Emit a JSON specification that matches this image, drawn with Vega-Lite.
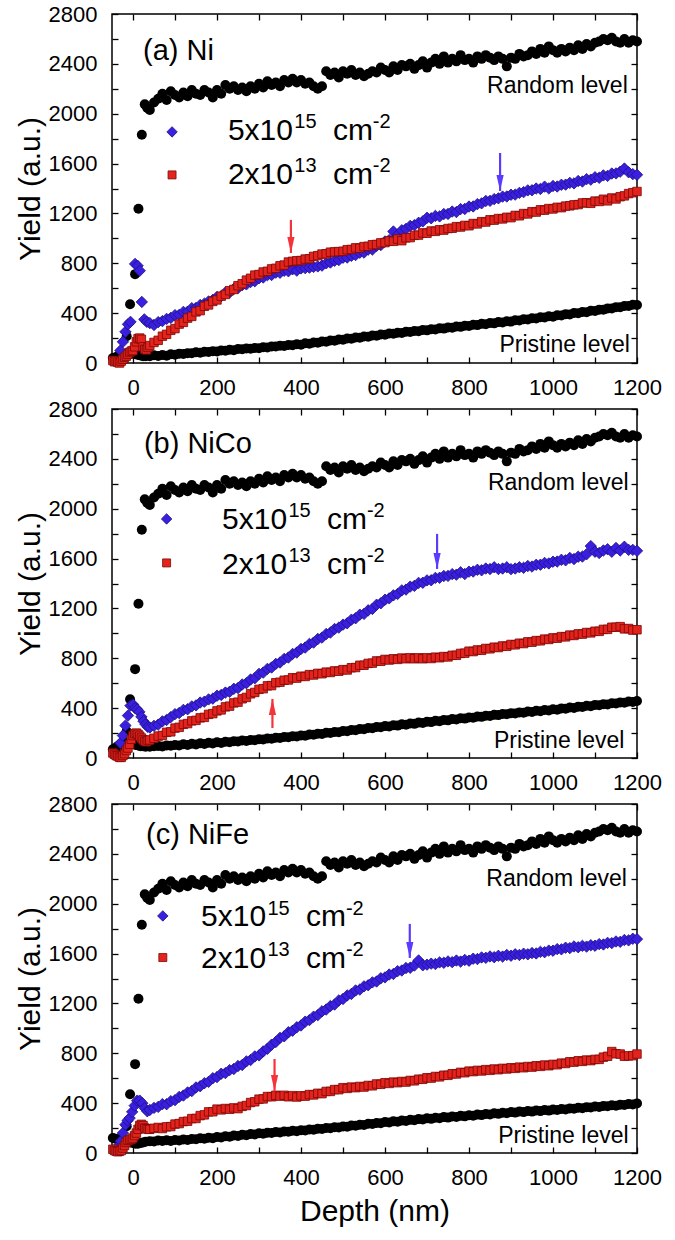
{"$schema":"https://vega.github.io/schema/vega-lite/v6.json","padding":{"left":14,"top":2,"right":5,"bottom":5},"background":"white","spacing":46,"bounds":"flush",
"config":{"view":{"stroke":"#000","strokeWidth":1.5},"font":"Liberation Sans","axis":{"domain":false,"grid":false,"labelFont":"Liberation Sans","labelFontSize":22,"labelColor":"#000","labelFlush":false,"labelOverlap":false,"format":"d","titleFont":"Liberation Sans","titleFontSize":30,"titleFontWeight":"normal","titleColor":"#000","tickColor":"#000","tickWidth":1.3},"point":{"filled":true,"opacity":1},"text":{"font":"Liberation Sans","color":"#000"},"mark":{"invalid":"filter"}},
"datasets":{
"d":[
{"x":-48,"Pa":40,"Sa":20,"Pb":70,"Sb":40,"Pc":120,"Sc":30},{"x":-44,"Sa":10,"Sb":30,"Sc":20},{"x":-42,"Pa":45,"Pb":80,"Pc":115},{"x":-40,"Sa":15,"Sb":20,"Sc":15},{"x":-36,"Pa":55,"Sa":5,"Pb":95,"Sb":15,"Pc":110,"Sc":10},{"x":-34,"Bc":60},{"x":-32,"Sa":0,"Sb":5,"Sc":15},{"x":-30,"Pa":60,"Ba":100,"Pb":110,"Bb":120,"Pc":105},{"x":-29,"Bc":95},{"x":-28,"Sa":15,"Sb":5,"Sc":20},{"x":-24,"Pa":70,"Ba":170,"Sa":30,"Pb":120,"Bb":180,"Sb":20,"Pc":100,"Bc":160,"Sc":40},{"x":-22,"R":54},{"x":-20,"Sa":45,"Sb":35,"Sc":60},{"x":-18,"Pa":75,"Ba":250,"Pb":125,"Bb":260,"Pc":95,"Bc":227},{"x":-16,"Sa":55,"Sb":60,"Sc":85},{"x":-15,"R":215},{"x":-13,"Bc":260},{"x":-12,"Pa":80,"Ba":310,"Sa":70,"Pb":120,"Bb":340,"Sb":80,"Pc":90,"Sc":100},{"x":-8,"Sa":85,"Sb":110,"Bc":280,"Sc":105},{"x":-7,"R":471},{"x":-6,"Pa":80,"Ba":330,"Pb":115,"Bb":420,"Pc":85},{"x":-4,"Sa":95,"Sb":150,"Sc":110},{"x":-2,"Bc":330},{"x":0,"Pa":75,"Sa":100,"Pb":110,"Bb":430,"Sb":180,"Pc":80,"Sc":120},{"x":4,"Sa":130,"Sb":195,"Bc":380,"Sc":140},{"x":5,"R":713,"Ba":795,"Bb":400},{"x":6,"Pa":70,"Pb":105,"Pc":75},{"x":8,"Sa":170,"Sb":200,"Sc":160},{"x":10,"Bb":390,"Bc":420},{"x":11,"Ba":780},{"x":12,"Pa":65,"Sa":195,"Pb":100,"Sb":190,"Pc":75,"Sc":190},{"x":13,"R":1238},{"x":15,"Bb":370},{"x":16,"Ba":740,"Sa":200,"Sb":175,"Bc":420,"Sc":220},{"x":18,"Pa":60,"Pb":95,"Pc":80},{"x":20,"Sa":190,"Bb":330,"Sb":160,"Sc":230},{"x":21,"R":1831,"Ba":490},{"x":22,"Bc":400},{"x":24,"Pa":55,"Sa":130,"Pb":95,"Sb":145,"Pc":85,"Sc":220},{"x":25,"Bb":295},{"x":27,"Ba":350},{"x":28,"R":2075,"Sa":110,"Sb":135,"Bc":360,"Sc":200},{"x":30,"Pa":55,"Pb":90,"Bb":270,"Pc":90},{"x":32,"Sa":105,"Sb":130,"Sc":195},{"x":33,"Ba":330},{"x":34,"R":2046,"Bc":335},{"x":35,"Bb":250},{"x":36,"Sa":125,"Sb":140,"Sc":190},
{"x":40,"R":2030,"Pa":55,"Ba":320,"Sa":140,"Pb":90,"Bb":245,"Sb":145,"Pc":95,"Bc":345,"Sc":190},
{"x":50,"R":2090,"Pa":62,"Ba":305,"Sa":165,"Pb":94,"Bb":258,"Sb":158,"Pc":92,"Bc":362,"Sc":198},
{"x":60,"R":2120,"Pa":56,"Ba":328,"Sa":182,"Pb":97,"Bb":268,"Sb":176,"Pc":100,"Bc":370,"Sc":205},
{"x":70,"R":2160,"Pa":64,"Ba":336,"Sa":215,"Pb":92,"Bb":294,"Sb":181,"Pc":96,"Bc":392,"Sc":196},
{"x":80,"R":2110,"Pa":58,"Ba":354,"Sa":230,"Pb":101,"Bb":305,"Sb":206,"Pc":103,"Bc":391,"Sc":210},
{"x":90,"R":2180,"Pa":70,"Ba":362,"Sa":262,"Pb":98,"Bb":328,"Sb":210,"Pc":97,"Bc":416,"Sc":212},
{"x":100,"R":2150,"Pa":67,"Ba":384,"Sa":276,"Pb":105,"Bb":352,"Sb":240,"Pc":104,"Bc":424,"Sc":232},
{"x":110,"R":2130,"Pa":75,"Ba":386,"Sa":312,"Pb":101,"Bb":361,"Sb":246,"Pc":100,"Bc":450,"Sc":236},
{"x":120,"R":2170,"Pa":73,"Ba":410,"Sa":326,"Pb":110,"Bb":386,"Sb":270,"Pc":108,"Bc":461,"Sc":252},
{"x":130,"R":2140,"Pa":79,"Ba":412,"Sa":360,"Pb":105,"Bb":391,"Sb":276,"Pc":104,"Bc":486,"Sc":255},
{"x":140,"R":2190,"Pa":78,"Ba":440,"Sa":374,"Pb":114,"Bb":414,"Sb":298,"Pc":113,"Bc":497,"Sc":276},
{"x":150,"R":2160,"Pa":86,"Ba":442,"Sa":410,"Pb":109,"Bb":422,"Sb":302,"Pc":110,"Bc":526,"Sc":277},
{"x":160,"R":2150,"Pa":83,"Ba":465,"Sa":420,"Pb":118,"Bb":445,"Sb":322,"Pc":118,"Bc":536,"Sc":300},
{"x":170,"R":2190,"Pa":90,"Ba":476,"Sa":455,"Pb":113,"Bb":452,"Sb":326,"Pc":114,"Bc":560,"Sc":306},
{"x":180,"R":2170,"Pa":88,"Ba":494,"Sa":466,"Pb":122,"Bb":470,"Sb":350,"Pc":123,"Bc":571,"Sc":330},
{"x":190,"R":2130,"Pa":95,"Ba":506,"Sa":494,"Pb":117,"Bb":476,"Sb":356,"Pc":119,"Bc":600,"Sc":331},
{"x":200,"R":2190,"Pa":93,"Ba":530,"Sa":506,"Pb":126,"Bb":500,"Sb":378,"Pc":128,"Bc":609,"Sc":352},
{"x":210,"R":2160,"Pa":101,"Ba":536,"Sa":536,"Pb":121,"Bb":506,"Sb":386,"Pc":125,"Bc":636,"Sc":346},
{"x":220,"R":2230,"Pa":98,"Ba":565,"Sa":550,"Pb":130,"Bb":525,"Sb":410,"Pc":134,"Bc":641,"Sc":357},
{"x":230,"R":2200,"Pa":106,"Ba":566,"Sa":580,"Pb":127,"Bb":531,"Sb":416,"Pc":131,"Bc":665,"Sc":351},
{"x":240,"R":2220,"Pa":103,"Ba":595,"Sa":590,"Pb":135,"Bb":555,"Sb":442,"Pc":140,"Bc":674,"Sc":362},
{"x":250,"R":2190,"Pa":112,"Ba":601,"Sa":620,"Pb":132,"Bb":561,"Sb":448,"Pc":137,"Bc":698,"Sc":356},
{"x":260,"R":2210,"Pa":110,"Ba":625,"Sa":636,"Pb":140,"Bb":590,"Sb":475,"Pc":146,"Bc":706,"Sc":374},
{"x":270,"R":2180,"Pa":117,"Ba":631,"Sa":665,"Pb":137,"Bb":600,"Sb":486,"Pc":143,"Bc":735,"Sc":381},
{"x":280,"R":2220,"Pa":115,"Ba":650,"Sa":680,"Pb":145,"Bb":630,"Sb":515,"Pc":152,"Bc":746,"Sc":405},
{"x":290,"R":2200,"Pa":121,"Ba":656,"Sa":705,"Pb":142,"Bb":640,"Sb":526,"Pc":149,"Bc":775,"Sc":411},
{"x":300,"R":2240,"Pa":119,"Ba":680,"Sa":710,"Pb":151,"Bb":675,"Sb":551,"Pc":158,"Bc":783,"Sc":432},
{"x":310,"R":2210,"Pa":127,"Ba":686,"Sa":730,"Pb":148,"Bb":685,"Sb":556,"Pc":155,"Bc":815,"Sc":434},
{"x":320,"R":2260,"Pa":125,"Ba":705,"Sa":736,"Pb":157,"Bb":715,"Sb":579,"Pc":163,"Bc":836,"Sc":453},
{"x":330,"R":2230,"Pa":133,"Ba":706,"Sa":755,"Pb":154,"Bb":726,"Sb":581,"Pc":160,"Bc":869,"Sc":451},
{"x":340,"R":2250,"Pa":132,"Ba":725,"Sa":760,"Pb":163,"Bb":755,"Sb":604,"Pc":168,"Bc":891,"Sc":463},
{"x":350,"R":2220,"Pa":139,"Ba":724,"Sa":780,"Pb":160,"Bb":766,"Sb":608,"Pc":165,"Bc":924,"Sc":456},
{"x":360,"R":2270,"Pa":137,"Ba":740,"Sa":786,"Pb":169,"Bb":795,"Sb":624,"Pc":173,"Bc":936,"Sc":463},
{"x":370,"R":2250,"Pa":145,"Ba":736,"Sa":810,"Pb":166,"Bb":806,"Sb":626,"Pc":170,"Bc":969,"Sc":451},
{"x":380,"R":2280,"Pa":143,"Ba":752,"Sa":816,"Pb":175,"Bb":835,"Sb":644,"Pc":178,"Bc":981,"Sc":460},
{"x":390,"R":2250,"Pa":151,"Ba":741,"Sa":820,"Pb":172,"Bb":846,"Sb":641,"Pc":175,"Bc":1009,"Sc":449},
{"x":400,"R":2270,"Pa":147,"Ba":759,"Sa":822,"Pb":181,"Bb":875,"Sb":656,"Pc":183,"Bc":1023,"Sc":459},
{"x":410,"R":2240,"Pa":158,"Ba":761,"Sa":834,"Pb":179,"Bb":886,"Sb":654,"Pc":180,"Bc":1054,"Sc":456},
{"x":420,"R":2250,"Pa":155,"Ba":765,"Sa":836,"Pb":188,"Bb":915,"Sb":669,"Pc":189,"Bc":1066,"Sc":469},
{"x":430,"R":2220,"Pa":165,"Ba":771,"Sa":855,"Pb":186,"Bb":926,"Sb":666,"Pc":186,"Bc":1094,"Sc":466},
{"x":440,"R":2200,"Pa":163,"Ba":775,"Sa":861,"Pb":195,"Bb":955,"Sb":679,"Pc":195,"Bc":1106,"Sc":479},
{"x":450,"R":2220,"Pa":173,"Ba":781,"Sa":874,"Pb":193,"Bb":966,"Sb":676,"Pc":192,"Bc":1137,"Sc":476},
{"x":460,"R":2340,"Pa":171,"Ba":800,"Sa":876,"Pb":202,"Bb":995,"Sb":689,"Pc":201,"Bc":1151,"Sc":494},
{"x":470,"R":2310,"Pa":181,"Ba":806,"Sa":889,"Pb":200,"Bb":1006,"Sb":686,"Pc":198,"Bc":1179,"Sc":494},
{"x":480,"R":2330,"Pa":179,"Ba":820,"Sa":891,"Pb":209,"Bb":1035,"Sb":699,"Pc":207,"Bc":1191,"Sc":509},
{"x":490,"R":2290,"Pa":189,"Ba":826,"Sa":894,"Pb":207,"Bb":1046,"Sb":696,"Pc":204,"Bc":1224,"Sc":508},
{"x":500,"R":2340,"Pa":187,"Ba":845,"Sa":896,"Pb":216,"Bb":1070,"Sb":709,"Pc":213,"Bc":1236,"Sc":524},
{"x":510,"R":2320,"Pa":197,"Ba":846,"Sa":909,"Pb":214,"Bb":1081,"Sb":706,"Pc":211,"Bc":1264,"Sc":518},
{"x":520,"R":2350,"Pa":195,"Ba":860,"Sa":911,"Pb":224,"Bb":1110,"Sb":724,"Pc":220,"Bc":1276,"Sc":529},
{"x":530,"R":2310,"Pa":205,"Ba":866,"Sa":924,"Pb":222,"Bb":1121,"Sb":726,"Pc":218,"Bc":1304,"Sc":524},
{"x":540,"R":2330,"Pa":203,"Ba":885,"Sa":921,"Pb":232,"Bb":1150,"Sb":744,"Pc":227,"Bc":1311,"Sc":534},
{"x":550,"R":2300,"Pa":213,"Ba":886,"Sa":934,"Pb":230,"Bb":1156,"Sb":744,"Pc":225,"Bc":1337,"Sc":529},
{"x":560,"R":2320,"Pa":211,"Ba":910,"Sa":936,"Pb":240,"Bb":1185,"Sb":759,"Pc":234,"Bc":1346,"Sc":542},
{"x":570,"R":2340,"Pa":221,"Ba":911,"Sa":949,"Pb":238,"Bb":1196,"Sb":761,"Pc":232,"Bc":1369,"Sc":539},
{"x":580,"R":2330,"Pa":219,"Ba":940,"Sa":951,"Pb":248,"Bb":1230,"Sb":779,"Pc":241,"Bc":1376,"Sc":554},
{"x":590,"R":2370,"Pa":229,"Ba":946,"Sa":964,"Pb":246,"Bb":1241,"Sb":776,"Pc":239,"Bc":1402,"Sc":551},
{"x":600,"R":2350,"Pa":227,"Ba":975,"Sa":966,"Pb":256,"Bb":1270,"Sb":791,"Pc":248,"Bc":1409,"Sc":564},
{"x":610,"R":2330,"Pa":236,"Ba":986,"Sa":979,"Pb":253,"Bb":1281,"Sb":786,"Pc":245,"Bc":1432,"Sc":558},
{"x":620,"R":2380,"Pa":234,"Ba":1055,"Sa":976,"Pb":263,"Bb":1305,"Sb":796,"Pc":254,"Bc":1436,"Sc":569},
{"x":630,"R":2350,"Pa":243,"Ba":1026,"Sa":994,"Pb":260,"Bb":1316,"Sb":791,"Pc":251,"Bc":1459,"Sc":564},
{"x":640,"R":2390,"Pa":241,"Ba":1065,"Sa":981,"Pb":270,"Bb":1345,"Sb":802,"Pc":260,"Bc":1464,"Sc":574},
{"x":650,"R":2380,"Pa":250,"Ba":1076,"Sa":1004,"Pb":267,"Bb":1351,"Sb":796,"Pc":257,"Bc":1484,"Sc":569},
{"x":660,"R":2400,"Pa":248,"Ba":1100,"Sa":1006,"Pb":277,"Bb":1375,"Sb":804,"Pc":266,"Bc":1486,"Sc":582},
{"x":670,"R":2360,"Pa":257,"Ba":1106,"Sa":1024,"Pb":274,"Bb":1381,"Sb":796,"Pc":263,"Bc":1504,"Sc":579},
{"x":680,"R":2390,"Pa":255,"Ba":1125,"Sa":1026,"Pb":284,"Bb":1405,"Sb":804,"Pc":272,"Bc":1545,"Sc":592},
{"x":690,"R":2420,"Pa":265,"Ba":1136,"Sa":1044,"Pb":281,"Bb":1406,"Sb":796,"Pc":269,"Bc":1506,"Sc":591},
{"x":700,"R":2370,"Pa":262,"Ba":1165,"Sa":1041,"Pb":291,"Bb":1425,"Sb":804,"Pc":278,"Bc":1511,"Sc":604},
{"x":710,"R":2410,"Pa":271,"Ba":1161,"Sa":1059,"Pb":288,"Bb":1426,"Sb":798,"Pc":274,"Bc":1519,"Sc":601},
{"x":720,"R":2440,"Pa":269,"Ba":1180,"Sa":1056,"Pb":298,"Bb":1445,"Sb":809,"Pc":283,"Bc":1516,"Sc":614},
{"x":730,"R":2400,"Pa":278,"Ba":1176,"Sa":1069,"Pb":295,"Bb":1446,"Sb":804,"Pc":279,"Bc":1529,"Sc":611},
{"x":740,"R":2460,"Pa":276,"Ba":1195,"Sa":1066,"Pb":305,"Bb":1460,"Sb":814,"Pc":288,"Bc":1526,"Sc":624},
{"x":750,"R":2410,"Pa":285,"Ba":1196,"Sa":1079,"Pb":302,"Bb":1461,"Sb":811,"Pc":284,"Bc":1537,"Sc":623},
{"x":760,"R":2440,"Pa":283,"Ba":1215,"Sa":1081,"Pb":312,"Bb":1475,"Sb":824,"Pc":293,"Bc":1531,"Sc":636},
{"x":770,"R":2420,"Pa":293,"Ba":1211,"Sa":1094,"Pb":309,"Bb":1471,"Sb":824,"Pc":289,"Bc":1544,"Sc":634},
{"x":780,"R":2470,"Pa":290,"Ba":1235,"Sa":1091,"Pb":319,"Bb":1490,"Sb":839,"Pc":298,"Bc":1536,"Sc":647},
{"x":790,"R":2430,"Pa":299,"Ba":1236,"Sa":1104,"Pb":316,"Bb":1476,"Sb":841,"Pc":294,"Bc":1549,"Sc":644},
{"x":800,"R":2440,"Pa":297,"Ba":1255,"Sa":1101,"Pb":325,"Bb":1495,"Sb":857,"Pc":303,"Bc":1543,"Sc":657},
{"x":810,"R":2410,"Pa":307,"Ba":1256,"Sa":1119,"Pb":323,"Bb":1496,"Sb":854,"Pc":299,"Bc":1559,"Sc":653},
{"x":820,"R":2460,"Pa":304,"Ba":1275,"Sa":1116,"Pb":332,"Bb":1510,"Sb":867,"Pc":308,"Bc":1556,"Sc":663},
{"x":830,"R":2440,"Pa":314,"Ba":1281,"Sa":1134,"Pb":330,"Bb":1506,"Sb":864,"Pc":304,"Bc":1569,"Sc":658},
{"x":840,"R":2470,"Pa":311,"Ba":1300,"Sa":1131,"Pb":339,"Bb":1520,"Sb":879,"Pc":313,"Bc":1566,"Sc":669},
{"x":850,"R":2450,"Pa":321,"Ba":1301,"Sa":1149,"Pb":337,"Bb":1516,"Sb":876,"Pc":309,"Bc":1577,"Sc":663},
{"x":860,"R":2430,"Pa":318,"Ba":1315,"Sa":1146,"Pb":346,"Bb":1530,"Sb":889,"Pc":318,"Bc":1571,"Sc":674},
{"x":870,"R":2460,"Pa":328,"Ba":1321,"Sa":1159,"Pb":344,"Bb":1516,"Sb":886,"Pc":314,"Bc":1582,"Sc":668},
{"x":880,"R":2440,"Pa":325,"Ba":1335,"Sa":1156,"Pb":353,"Bb":1520,"Sb":899,"Pc":323,"Bc":1576,"Sc":679},
{"x":890,"R":2380,"Pa":335,"Ba":1336,"Sa":1169,"Pb":351,"Bb":1530,"Sb":896,"Pc":319,"Bc":1589,"Sc":674},
{"x":900,"R":2450,"Pa":332,"Ba":1350,"Sa":1166,"Pb":360,"Bb":1515,"Sb":911,"Pc":328,"Bc":1583,"Sc":684},
{"x":910,"R":2440,"Pa":343,"Ba":1351,"Sa":1184,"Pb":358,"Bb":1520,"Sb":908,"Pc":324,"Bc":1594,"Sc":679},
{"x":920,"R":2480,"Pa":341,"Ba":1365,"Sa":1181,"Pb":366,"Bb":1530,"Sb":921,"Pc":333,"Bc":1589,"Sc":689},
{"x":930,"R":2460,"Pa":351,"Ba":1371,"Sa":1199,"Pb":364,"Bb":1526,"Sb":918,"Pc":328,"Bc":1599,"Sc":684},
{"x":940,"R":2470,"Pa":349,"Ba":1385,"Sa":1196,"Pb":373,"Bb":1540,"Sb":932,"Pc":337,"Bc":1594,"Sc":694},
{"x":950,"R":2500,"Pa":359,"Ba":1386,"Sa":1214,"Pb":370,"Bb":1536,"Sb":929,"Pc":332,"Bc":1604,"Sc":689},
{"x":960,"R":2480,"Pa":357,"Ba":1400,"Sa":1211,"Pb":379,"Bb":1550,"Sb":942,"Pc":341,"Bc":1601,"Sc":700},
{"x":970,"R":2520,"Pa":367,"Ba":1396,"Sa":1229,"Pb":376,"Bb":1551,"Sb":940,"Pc":336,"Bc":1614,"Sc":695},
{"x":980,"R":2490,"Pa":365,"Ba":1415,"Sa":1226,"Pb":385,"Bb":1565,"Sb":954,"Pc":345,"Bc":1611,"Sc":706},
{"x":990,"R":2540,"Pa":375,"Ba":1401,"Sa":1239,"Pb":382,"Bb":1561,"Sb":951,"Pc":340,"Bc":1624,"Sc":700},
{"x":1000,"R":2510,"Pa":372,"Ba":1420,"Sa":1236,"Pb":391,"Bb":1575,"Sb":964,"Pc":348,"Bc":1623,"Sc":711},
{"x":1010,"R":2490,"Pa":383,"Ba":1416,"Sa":1249,"Pb":388,"Bb":1576,"Sb":961,"Pc":345,"Bc":1636,"Sc":708},
{"x":1020,"R":2520,"Pa":381,"Ba":1430,"Sa":1246,"Pb":398,"Bb":1590,"Sb":974,"Pc":353,"Bc":1634,"Sc":721},
{"x":1030,"R":2500,"Pa":392,"Ba":1431,"Sa":1259,"Pb":395,"Bb":1586,"Sb":972,"Pc":350,"Bc":1647,"Sc":718},
{"x":1040,"R":2530,"Pa":390,"Ba":1445,"Sa":1261,"Pb":405,"Bb":1605,"Sb":986,"Pc":358,"Bc":1644,"Sc":732},
{"x":1050,"R":2510,"Pa":401,"Ba":1441,"Sa":1269,"Pb":402,"Bb":1596,"Sb":983,"Pc":355,"Bc":1657,"Sc":729},
{"x":1060,"R":2550,"Pa":399,"Ba":1460,"Sa":1271,"Pb":412,"Bb":1615,"Sb":996,"Pc":363,"Bc":1651,"Sc":740},
{"x":1070,"R":2520,"Pa":409,"Ba":1456,"Sa":1284,"Pb":409,"Bb":1616,"Sb":994,"Pc":360,"Bc":1662,"Sc":735},
{"x":1080,"R":2560,"Pa":408,"Ba":1475,"Sa":1286,"Pb":419,"Bb":1635,"Sb":1007,"Pc":368,"Bc":1656,"Sc":746},
{"x":1090,"R":2540,"Pa":419,"Ba":1471,"Sa":1281,"Pb":416,"Bb":1700,"Sb":1004,"Pc":365,"Bc":1667,"Sc":741},
{"x":1100,"R":2570,"Pa":417,"Ba":1490,"Sa":1299,"Pb":426,"Bb":1655,"Sb":1017,"Pc":373,"Bc":1663,"Sc":751},
{"x":1110,"R":2580,"Pa":428,"Ba":1486,"Sa":1296,"Pb":423,"Bb":1645,"Sb":1016,"Pc":370,"Bc":1676,"Sc":751},
{"x":1120,"R":2600,"Pa":427,"Ba":1505,"Sa":1314,"Pb":432,"Bb":1665,"Sb":1032,"Pc":378,"Bc":1673,"Sc":769},
{"x":1130,"R":2590,"Pa":438,"Ba":1501,"Sa":1301,"Pb":430,"Bb":1675,"Sb":1032,"Pc":375,"Bc":1686,"Sc":776},
{"x":1140,"R":2610,"Pa":437,"Ba":1520,"Sa":1324,"Pb":439,"Bb":1655,"Sb":1049,"Pc":383,"Bc":1684,"Sc":814},
{"x":1150,"R":2580,"Pa":448,"Ba":1521,"Sa":1316,"Pb":437,"Bb":1685,"Sb":1049,"Pc":380,"Bc":1697,"Sc":796},
{"x":1160,"R":2570,"Pa":447,"Ba":1535,"Sa":1334,"Pb":446,"Bb":1665,"Sb":1054,"Pc":388,"Bc":1694,"Sc":794},
{"x":1170,"R":2600,"Pa":458,"Ba":1560,"Sa":1341,"Pb":443,"Bb":1695,"Sb":1036,"Pc":385,"Bc":1709,"Sc":776},
{"x":1180,"R":2570,"Pa":457,"Ba":1530,"Sa":1359,"Pb":453,"Bb":1670,"Sb":1039,"Pc":393,"Bc":1706,"Sc":779},
{"x":1190,"R":2590,"Pa":468,"Ba":1515,"Sa":1366,"Pb":450,"Bb":1670,"Sb":1026,"Pc":390,"Bc":1719,"Sc":781},
{"x":1200,"R":2580,"Pa":466,"Ba":1510,"Sa":1376,"Pb":458,"Bb":1662,"Sb":1029,"Pc":398,"Bc":1716,"Sc":794}
],
"ann":[
{"p":"a","k":"lab","t":"(a) Ni","x":24,"y":2500},{"p":"b","k":"lab","t":"(b) NiCo","x":26,"y":2520},{"p":"c","k":"lab","t":"(c) NiFe","x":31,"y":2550},
{"p":"a","k":"lvl","t":"Random level","x":1178,"y":2222},{"p":"b","k":"lvl","t":"Random level","x":1180,"y":2207},{"p":"c","k":"lvl","t":"Random level","x":1176,"y":2199},
{"p":"a","k":"lvl","t":"Pristine level","x":1183,"y":144},{"p":"b","k":"lvl","t":"Pristine level","x":1170,"y":136},{"p":"c","k":"lvl","t":"Pristine level","x":1180,"y":136},
{"p":"a","k":"main","t":"5x10","x":226,"y":1790},{"p":"a","k":"sup","t":"15","x":384,"y":1885},{"p":"a","k":"main","t":"cm","x":476,"y":1790},{"p":"a","k":"sup","t":"-2","x":571,"y":1885},
{"p":"a","k":"main","t":"2x10","x":226,"y":1437},{"p":"a","k":"sup","t":"13","x":384,"y":1532},{"p":"a","k":"main","t":"cm","x":476,"y":1437},{"p":"a","k":"sup","t":"-2","x":571,"y":1532},
{"p":"b","k":"main","t":"5x10","x":212,"y":1835},{"p":"b","k":"sup","t":"15","x":370,"y":1930},{"p":"b","k":"main","t":"cm","x":462,"y":1835},{"p":"b","k":"sup","t":"-2","x":557,"y":1930},
{"p":"b","k":"main","t":"2x10","x":212,"y":1480},{"p":"b","k":"sup","t":"13","x":370,"y":1575},{"p":"b","k":"main","t":"cm","x":462,"y":1480},{"p":"b","k":"sup","t":"-2","x":557,"y":1575},
{"p":"c","k":"main","t":"5x10","x":162,"y":1818},{"p":"c","k":"sup","t":"15","x":320,"y":1913},{"p":"c","k":"main","t":"cm","x":412,"y":1818},{"p":"c","k":"sup","t":"-2","x":507,"y":1913},
{"p":"c","k":"main","t":"2x10","x":162,"y":1484},{"p":"c","k":"sup","t":"13","x":320,"y":1579},{"p":"c","k":"main","t":"cm","x":412,"y":1484},{"p":"c","k":"sup","t":"-2","x":507,"y":1579}
],
"leg":[{"p":"a","s":"high","x":93,"y":1854},{"p":"a","s":"low","x":93,"y":1509},{"p":"b","s":"high","x":80,"y":1918},{"p":"b","s":"low","x":80,"y":1565},{"p":"c","s":"high","x":71,"y":1902},{"p":"c","s":"low","x":71,"y":1568}],
"arr":[{"p":"a","s":"high","dir":"down","x":874,"y":1685,"y2":1380},{"p":"a","s":"low","dir":"down","x":376,"y":1148,"y2":883},{"p":"b","s":"high","dir":"down","x":724,"y":1798,"y2":1517},{"p":"b","s":"low","dir":"up","x":332,"y":241,"y2":474},{"p":"c","s":"high","dir":"down","x":659,"y":1838,"y2":1565},{"p":"c","s":"low","dir":"down","x":337,"y":754,"y2":498}]
},
"vconcat":[
{"width":525,"height":349,"resolve":{"axis":{"x":"independent","y":"independent"}},"layer":[
{"data":{"name":"d"},"mark":{"type":"point","shape":"circle","color":"#000","size":100},"encoding":{"x":{"field":"x","type":"quantitative","scale":{"domain":[-50,1200],"nice":false,"zero":false},"axis":{"orient":"bottom","values":[0,200,400,600,800,1000,1200],"ticks":false,"tickSize":0,"labelPadding":14,"title":null}},"y":{"field":"R","type":"quantitative","scale":{"domain":[0,2800],"nice":false,"zero":false},"axis":{"orient":"left","values":[0,400,800,1200,1600,2000,2400,2800],"ticks":false,"tickSize":0,"labelPadding":15,"title":"Yield (a.u.)","titlePadding":3}}}},
{"data":{"name":"d"},"mark":{"type":"point","shape":"circle","color":"#000","size":100},"encoding":{"x":{"field":"x","type":"quantitative","scale":{"domain":[-50,1200],"nice":false,"zero":false},"axis":{"orient":"bottom","offset":-6,"values":[0,100,200,300,400,500,600,700,800,900,1000,1100,1200],"labels":false,"tickSize":6,"title":null}},"y":{"field":"Pa","type":"quantitative","scale":{"domain":[0,2800],"nice":false,"zero":false},"axis":{"orient":"left","offset":-6,"values":[0,200,400,600,800,1000,1200,1400,1600,1800,2000,2200,2400,2600,2800],"labels":false,"tickSize":6,"title":null}}}},
{"data":{"name":"d"},"mark":{"type":"point","shape":"diamond","fill":"#3a1fe0","stroke":"#1c1080","strokeWidth":0.8,"size":130},"encoding":{"x":{"field":"x","type":"quantitative","scale":{"domain":[-50,1200],"nice":false,"zero":false},"axis":{"orient":"top","offset":-6,"values":[0,100,200,300,400,500,600,700,800,900,1000,1100,1200],"labels":false,"tickSize":6,"title":null}},"y":{"field":"Ba","type":"quantitative","scale":{"domain":[0,2800],"nice":false,"zero":false},"axis":{"orient":"right","offset":-6,"values":[0,200,400,600,800,1000,1200,1400,1600,1800,2000,2200,2400,2600,2800],"labels":false,"tickSize":6,"title":null}}}},
{"data":{"name":"d"},"mark":{"type":"point","shape":"square","fill":"#e4241c","stroke":"#7a0808","strokeWidth":0.8,"size":72},"encoding":{"x":{"field":"x","type":"quantitative","scale":{"domain":[-50,1200],"nice":false,"zero":false},"axis":null},"y":{"field":"Sa","type":"quantitative","scale":{"domain":[0,2800],"nice":false,"zero":false},"axis":null}}},
{"data":{"name":"leg"},"transform":[{"filter":"datum.p=='a' && datum.s=='high'"}],"mark":{"type":"point","shape":"diamond","fill":"#3a1fe0","stroke":"#1c1080","strokeWidth":0.8,"size":110},"encoding":{"x":{"field":"x","type":"quantitative","scale":{"domain":[-50,1200],"nice":false,"zero":false},"axis":null},"y":{"field":"y","type":"quantitative","scale":{"domain":[0,2800],"nice":false,"zero":false},"axis":null}}},
{"data":{"name":"leg"},"transform":[{"filter":"datum.p=='a' && datum.s=='low'"}],"mark":{"type":"point","shape":"square","fill":"#e4241c","stroke":"#7a0808","strokeWidth":0.8,"size":64},"encoding":{"x":{"field":"x","type":"quantitative","scale":{"domain":[-50,1200],"nice":false,"zero":false},"axis":null},"y":{"field":"y","type":"quantitative","scale":{"domain":[0,2800],"nice":false,"zero":false},"axis":null}}},
{"data":{"name":"arr"},"transform":[{"filter":"datum.p=='a'"}],"mark":{"type":"rule","strokeWidth":2.2},"encoding":{"x":{"field":"x","type":"quantitative","scale":{"domain":[-50,1200],"nice":false,"zero":false},"axis":null},"y":{"field":"y","type":"quantitative","scale":{"domain":[0,2800],"nice":false,"zero":false},"axis":null},"y2":{"field":"y2"},"color":{"field":"s","type":"nominal","scale":{"domain":["high","low"],"range":["#5a3cff","#f5333a"]},"legend":null}}},
{"data":{"name":"arr"},"transform":[{"filter":"datum.p=='a' && datum.dir=='down'"}],"mark":{"type":"point","shape":"M-0.45,-1L0.45,-1L0,1Z","size":256,"yOffset":-8},"encoding":{"x":{"field":"x","type":"quantitative","scale":{"domain":[-50,1200],"nice":false,"zero":false},"axis":null},"y":{"field":"y2","type":"quantitative","scale":{"domain":[0,2800],"nice":false,"zero":false},"axis":null},"color":{"field":"s","type":"nominal","scale":{"domain":["high","low"],"range":["#5a3cff","#f5333a"]},"legend":null}}},
{"data":{"name":"ann"},"transform":[{"filter":"datum.p=='a' && datum.k=='lab'"}],"mark":{"type":"text","align":"left","baseline":"middle","fontSize":29},"encoding":{"x":{"field":"x","type":"quantitative","scale":{"domain":[-50,1200],"nice":false,"zero":false},"axis":null},"y":{"field":"y","type":"quantitative","scale":{"domain":[0,2800],"nice":false,"zero":false},"axis":null},"text":{"field":"t"}}},
{"data":{"name":"ann"},"transform":[{"filter":"datum.p=='a' && datum.k=='lvl'"}],"mark":{"type":"text","align":"right","baseline":"middle","fontSize":23},"encoding":{"x":{"field":"x","type":"quantitative","scale":{"domain":[-50,1200],"nice":false,"zero":false},"axis":null},"y":{"field":"y","type":"quantitative","scale":{"domain":[0,2800],"nice":false,"zero":false},"axis":null},"text":{"field":"t"}}},
{"data":{"name":"ann"},"transform":[{"filter":"datum.p=='a' && datum.k=='main'"}],"mark":{"type":"text","align":"left","baseline":"alphabetic","fontSize":30},"encoding":{"x":{"field":"x","type":"quantitative","scale":{"domain":[-50,1200],"nice":false,"zero":false},"axis":null},"y":{"field":"y","type":"quantitative","scale":{"domain":[0,2800],"nice":false,"zero":false},"axis":null},"text":{"field":"t"}}},
{"data":{"name":"ann"},"transform":[{"filter":"datum.p=='a' && datum.k=='sup'"}],"mark":{"type":"text","align":"left","baseline":"alphabetic","fontSize":20},"encoding":{"x":{"field":"x","type":"quantitative","scale":{"domain":[-50,1200],"nice":false,"zero":false},"axis":null},"y":{"field":"y","type":"quantitative","scale":{"domain":[0,2800],"nice":false,"zero":false},"axis":null},"text":{"field":"t"}}}
]},
{"width":525,"height":349,"resolve":{"axis":{"x":"independent","y":"independent"}},"layer":[
{"data":{"name":"d"},"mark":{"type":"point","shape":"circle","color":"#000","size":100},"encoding":{"x":{"field":"x","type":"quantitative","scale":{"domain":[-50,1200],"nice":false,"zero":false},"axis":{"orient":"bottom","values":[0,200,400,600,800,1000,1200],"ticks":false,"tickSize":0,"labelPadding":14,"title":null}},"y":{"field":"R","type":"quantitative","scale":{"domain":[0,2800],"nice":false,"zero":false},"axis":{"orient":"left","values":[0,400,800,1200,1600,2000,2400,2800],"ticks":false,"tickSize":0,"labelPadding":15,"title":"Yield (a.u.)","titlePadding":3}}}},
{"data":{"name":"d"},"mark":{"type":"point","shape":"circle","color":"#000","size":100},"encoding":{"x":{"field":"x","type":"quantitative","scale":{"domain":[-50,1200],"nice":false,"zero":false},"axis":{"orient":"bottom","offset":-6,"values":[0,100,200,300,400,500,600,700,800,900,1000,1100,1200],"labels":false,"tickSize":6,"title":null}},"y":{"field":"Pb","type":"quantitative","scale":{"domain":[0,2800],"nice":false,"zero":false},"axis":{"orient":"left","offset":-6,"values":[0,200,400,600,800,1000,1200,1400,1600,1800,2000,2200,2400,2600,2800],"labels":false,"tickSize":6,"title":null}}}},
{"data":{"name":"d"},"mark":{"type":"point","shape":"diamond","fill":"#3a1fe0","stroke":"#1c1080","strokeWidth":0.8,"size":130},"encoding":{"x":{"field":"x","type":"quantitative","scale":{"domain":[-50,1200],"nice":false,"zero":false},"axis":{"orient":"top","offset":-6,"values":[0,100,200,300,400,500,600,700,800,900,1000,1100,1200],"labels":false,"tickSize":6,"title":null}},"y":{"field":"Bb","type":"quantitative","scale":{"domain":[0,2800],"nice":false,"zero":false},"axis":{"orient":"right","offset":-6,"values":[0,200,400,600,800,1000,1200,1400,1600,1800,2000,2200,2400,2600,2800],"labels":false,"tickSize":6,"title":null}}}},
{"data":{"name":"d"},"mark":{"type":"point","shape":"square","fill":"#e4241c","stroke":"#7a0808","strokeWidth":0.8,"size":72},"encoding":{"x":{"field":"x","type":"quantitative","scale":{"domain":[-50,1200],"nice":false,"zero":false},"axis":null},"y":{"field":"Sb","type":"quantitative","scale":{"domain":[0,2800],"nice":false,"zero":false},"axis":null}}},
{"data":{"name":"leg"},"transform":[{"filter":"datum.p=='b' && datum.s=='high'"}],"mark":{"type":"point","shape":"diamond","fill":"#3a1fe0","stroke":"#1c1080","strokeWidth":0.8,"size":110},"encoding":{"x":{"field":"x","type":"quantitative","scale":{"domain":[-50,1200],"nice":false,"zero":false},"axis":null},"y":{"field":"y","type":"quantitative","scale":{"domain":[0,2800],"nice":false,"zero":false},"axis":null}}},
{"data":{"name":"leg"},"transform":[{"filter":"datum.p=='b' && datum.s=='low'"}],"mark":{"type":"point","shape":"square","fill":"#e4241c","stroke":"#7a0808","strokeWidth":0.8,"size":64},"encoding":{"x":{"field":"x","type":"quantitative","scale":{"domain":[-50,1200],"nice":false,"zero":false},"axis":null},"y":{"field":"y","type":"quantitative","scale":{"domain":[0,2800],"nice":false,"zero":false},"axis":null}}},
{"data":{"name":"arr"},"transform":[{"filter":"datum.p=='b'"}],"mark":{"type":"rule","strokeWidth":2.2},"encoding":{"x":{"field":"x","type":"quantitative","scale":{"domain":[-50,1200],"nice":false,"zero":false},"axis":null},"y":{"field":"y","type":"quantitative","scale":{"domain":[0,2800],"nice":false,"zero":false},"axis":null},"y2":{"field":"y2"},"color":{"field":"s","type":"nominal","scale":{"domain":["high","low"],"range":["#5a3cff","#f5333a"]},"legend":null}}},
{"data":{"name":"arr"},"transform":[{"filter":"datum.p=='b' && datum.dir=='down'"}],"mark":{"type":"point","shape":"M-0.45,-1L0.45,-1L0,1Z","size":256,"yOffset":-8},"encoding":{"x":{"field":"x","type":"quantitative","scale":{"domain":[-50,1200],"nice":false,"zero":false},"axis":null},"y":{"field":"y2","type":"quantitative","scale":{"domain":[0,2800],"nice":false,"zero":false},"axis":null},"color":{"field":"s","type":"nominal","scale":{"domain":["high","low"],"range":["#5a3cff","#f5333a"]},"legend":null}}},
{"data":{"name":"arr"},"transform":[{"filter":"datum.p=='b' && datum.dir=='up'"}],"mark":{"type":"point","shape":"M-0.45,1L0.45,1L0,-1Z","size":256,"yOffset":8},"encoding":{"x":{"field":"x","type":"quantitative","scale":{"domain":[-50,1200],"nice":false,"zero":false},"axis":null},"y":{"field":"y2","type":"quantitative","scale":{"domain":[0,2800],"nice":false,"zero":false},"axis":null},"color":{"field":"s","type":"nominal","scale":{"domain":["high","low"],"range":["#5a3cff","#f5333a"]},"legend":null}}},
{"data":{"name":"ann"},"transform":[{"filter":"datum.p=='b' && datum.k=='lab'"}],"mark":{"type":"text","align":"left","baseline":"middle","fontSize":29},"encoding":{"x":{"field":"x","type":"quantitative","scale":{"domain":[-50,1200],"nice":false,"zero":false},"axis":null},"y":{"field":"y","type":"quantitative","scale":{"domain":[0,2800],"nice":false,"zero":false},"axis":null},"text":{"field":"t"}}},
{"data":{"name":"ann"},"transform":[{"filter":"datum.p=='b' && datum.k=='lvl'"}],"mark":{"type":"text","align":"right","baseline":"middle","fontSize":23},"encoding":{"x":{"field":"x","type":"quantitative","scale":{"domain":[-50,1200],"nice":false,"zero":false},"axis":null},"y":{"field":"y","type":"quantitative","scale":{"domain":[0,2800],"nice":false,"zero":false},"axis":null},"text":{"field":"t"}}},
{"data":{"name":"ann"},"transform":[{"filter":"datum.p=='b' && datum.k=='main'"}],"mark":{"type":"text","align":"left","baseline":"alphabetic","fontSize":30},"encoding":{"x":{"field":"x","type":"quantitative","scale":{"domain":[-50,1200],"nice":false,"zero":false},"axis":null},"y":{"field":"y","type":"quantitative","scale":{"domain":[0,2800],"nice":false,"zero":false},"axis":null},"text":{"field":"t"}}},
{"data":{"name":"ann"},"transform":[{"filter":"datum.p=='b' && datum.k=='sup'"}],"mark":{"type":"text","align":"left","baseline":"alphabetic","fontSize":20},"encoding":{"x":{"field":"x","type":"quantitative","scale":{"domain":[-50,1200],"nice":false,"zero":false},"axis":null},"y":{"field":"y","type":"quantitative","scale":{"domain":[0,2800],"nice":false,"zero":false},"axis":null},"text":{"field":"t"}}}
]},
{"width":525,"height":349,"resolve":{"axis":{"x":"independent","y":"independent"}},"layer":[
{"data":{"name":"d"},"mark":{"type":"point","shape":"circle","color":"#000","size":100},"encoding":{"x":{"field":"x","type":"quantitative","scale":{"domain":[-50,1200],"nice":false,"zero":false},"axis":{"orient":"bottom","values":[0,200,400,600,800,1000,1200],"ticks":false,"tickSize":0,"labelPadding":14,"title":"Depth (nm)","titlePadding":8}},"y":{"field":"R","type":"quantitative","scale":{"domain":[0,2800],"nice":false,"zero":false},"axis":{"orient":"left","values":[0,400,800,1200,1600,2000,2400,2800],"ticks":false,"tickSize":0,"labelPadding":15,"title":"Yield (a.u.)","titlePadding":3}}}},
{"data":{"name":"d"},"mark":{"type":"point","shape":"circle","color":"#000","size":100},"encoding":{"x":{"field":"x","type":"quantitative","scale":{"domain":[-50,1200],"nice":false,"zero":false},"axis":{"orient":"bottom","offset":-6,"values":[0,100,200,300,400,500,600,700,800,900,1000,1100,1200],"labels":false,"tickSize":6,"title":null}},"y":{"field":"Pc","type":"quantitative","scale":{"domain":[0,2800],"nice":false,"zero":false},"axis":{"orient":"left","offset":-6,"values":[0,200,400,600,800,1000,1200,1400,1600,1800,2000,2200,2400,2600,2800],"labels":false,"tickSize":6,"title":null}}}},
{"data":{"name":"d"},"mark":{"type":"point","shape":"diamond","fill":"#3a1fe0","stroke":"#1c1080","strokeWidth":0.8,"size":130},"encoding":{"x":{"field":"x","type":"quantitative","scale":{"domain":[-50,1200],"nice":false,"zero":false},"axis":{"orient":"top","offset":-6,"values":[0,100,200,300,400,500,600,700,800,900,1000,1100,1200],"labels":false,"tickSize":6,"title":null}},"y":{"field":"Bc","type":"quantitative","scale":{"domain":[0,2800],"nice":false,"zero":false},"axis":{"orient":"right","offset":-6,"values":[0,200,400,600,800,1000,1200,1400,1600,1800,2000,2200,2400,2600,2800],"labels":false,"tickSize":6,"title":null}}}},
{"data":{"name":"d"},"mark":{"type":"point","shape":"square","fill":"#e4241c","stroke":"#7a0808","strokeWidth":0.8,"size":72},"encoding":{"x":{"field":"x","type":"quantitative","scale":{"domain":[-50,1200],"nice":false,"zero":false},"axis":null},"y":{"field":"Sc","type":"quantitative","scale":{"domain":[0,2800],"nice":false,"zero":false},"axis":null}}},
{"data":{"name":"leg"},"transform":[{"filter":"datum.p=='c' && datum.s=='high'"}],"mark":{"type":"point","shape":"diamond","fill":"#3a1fe0","stroke":"#1c1080","strokeWidth":0.8,"size":110},"encoding":{"x":{"field":"x","type":"quantitative","scale":{"domain":[-50,1200],"nice":false,"zero":false},"axis":null},"y":{"field":"y","type":"quantitative","scale":{"domain":[0,2800],"nice":false,"zero":false},"axis":null}}},
{"data":{"name":"leg"},"transform":[{"filter":"datum.p=='c' && datum.s=='low'"}],"mark":{"type":"point","shape":"square","fill":"#e4241c","stroke":"#7a0808","strokeWidth":0.8,"size":64},"encoding":{"x":{"field":"x","type":"quantitative","scale":{"domain":[-50,1200],"nice":false,"zero":false},"axis":null},"y":{"field":"y","type":"quantitative","scale":{"domain":[0,2800],"nice":false,"zero":false},"axis":null}}},
{"data":{"name":"arr"},"transform":[{"filter":"datum.p=='c'"}],"mark":{"type":"rule","strokeWidth":2.2},"encoding":{"x":{"field":"x","type":"quantitative","scale":{"domain":[-50,1200],"nice":false,"zero":false},"axis":null},"y":{"field":"y","type":"quantitative","scale":{"domain":[0,2800],"nice":false,"zero":false},"axis":null},"y2":{"field":"y2"},"color":{"field":"s","type":"nominal","scale":{"domain":["high","low"],"range":["#5a3cff","#f5333a"]},"legend":null}}},
{"data":{"name":"arr"},"transform":[{"filter":"datum.p=='c' && datum.dir=='down'"}],"mark":{"type":"point","shape":"M-0.45,-1L0.45,-1L0,1Z","size":256,"yOffset":-8},"encoding":{"x":{"field":"x","type":"quantitative","scale":{"domain":[-50,1200],"nice":false,"zero":false},"axis":null},"y":{"field":"y2","type":"quantitative","scale":{"domain":[0,2800],"nice":false,"zero":false},"axis":null},"color":{"field":"s","type":"nominal","scale":{"domain":["high","low"],"range":["#5a3cff","#f5333a"]},"legend":null}}},
{"data":{"name":"ann"},"transform":[{"filter":"datum.p=='c' && datum.k=='lab'"}],"mark":{"type":"text","align":"left","baseline":"middle","fontSize":29},"encoding":{"x":{"field":"x","type":"quantitative","scale":{"domain":[-50,1200],"nice":false,"zero":false},"axis":null},"y":{"field":"y","type":"quantitative","scale":{"domain":[0,2800],"nice":false,"zero":false},"axis":null},"text":{"field":"t"}}},
{"data":{"name":"ann"},"transform":[{"filter":"datum.p=='c' && datum.k=='lvl'"}],"mark":{"type":"text","align":"right","baseline":"middle","fontSize":23},"encoding":{"x":{"field":"x","type":"quantitative","scale":{"domain":[-50,1200],"nice":false,"zero":false},"axis":null},"y":{"field":"y","type":"quantitative","scale":{"domain":[0,2800],"nice":false,"zero":false},"axis":null},"text":{"field":"t"}}},
{"data":{"name":"ann"},"transform":[{"filter":"datum.p=='c' && datum.k=='main'"}],"mark":{"type":"text","align":"left","baseline":"alphabetic","fontSize":30},"encoding":{"x":{"field":"x","type":"quantitative","scale":{"domain":[-50,1200],"nice":false,"zero":false},"axis":null},"y":{"field":"y","type":"quantitative","scale":{"domain":[0,2800],"nice":false,"zero":false},"axis":null},"text":{"field":"t"}}},
{"data":{"name":"ann"},"transform":[{"filter":"datum.p=='c' && datum.k=='sup'"}],"mark":{"type":"text","align":"left","baseline":"alphabetic","fontSize":20},"encoding":{"x":{"field":"x","type":"quantitative","scale":{"domain":[-50,1200],"nice":false,"zero":false},"axis":null},"y":{"field":"y","type":"quantitative","scale":{"domain":[0,2800],"nice":false,"zero":false},"axis":null},"text":{"field":"t"}}}
]}
]}
